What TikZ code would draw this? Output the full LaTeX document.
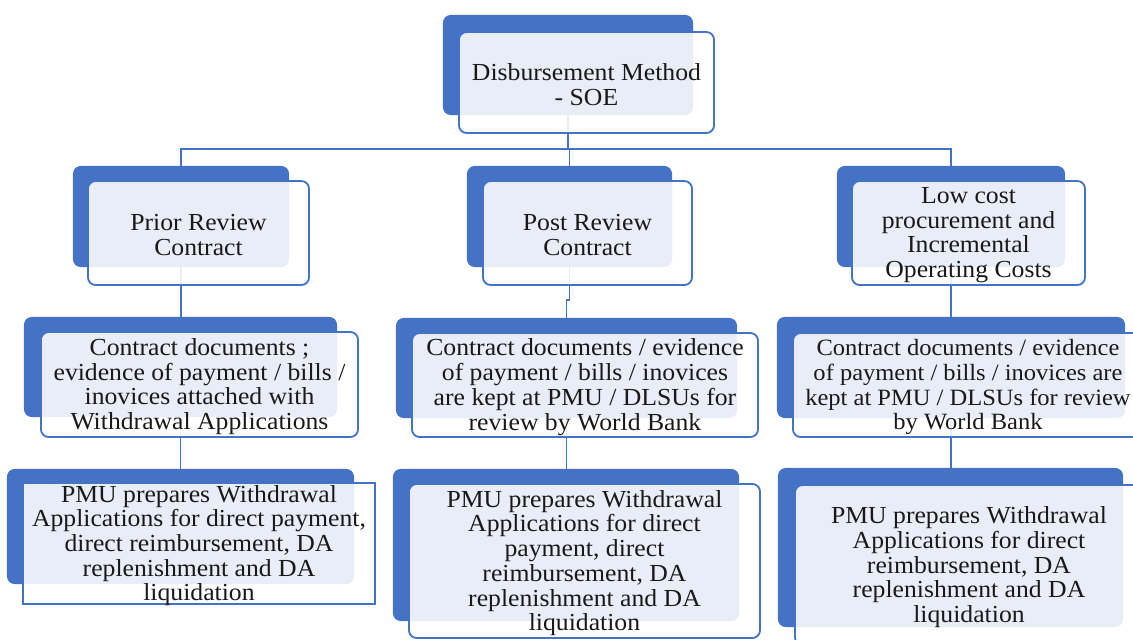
\documentclass[tikz,border=0pt]{standalone}
\usepackage{fontspec}
\setmainfont[FakeStretch=1.05]{Liberation Serif}
\usetikzlibrary{backgrounds}
\definecolor{boxblue}{HTML}{4472C4}

\begin{document}
\begin{tikzpicture}[x=0.025cm, y=-0.025cm,
    back/.style={fill=boxblue, rounded corners=5.5pt, inner sep=0pt},
    front/.style={draw=boxblue, line width=1.3pt, fill=white, fill opacity=0.88, rounded corners=5.5pt, inner sep=0pt},
    boxtext/.style={align=center, inner sep=0pt, yshift=-1.5pt, text=black!90, font=\fontsize{17.4}{17.6}\selectfont},
    link/.style={draw=boxblue, line width=1.3pt}]

        % page size of the reference
        \useasboundingbox (0,0) rectangle (1133,639);
        \clip (0,0) rectangle (1133,639);

        % top box
        \node[back, minimum width=6.25cm, minimum height=2.5cm] (soe back) at (568,65) {};
        \node[front, minimum width=6.375cm, minimum height=2.525cm] (soe front) at (586.5,82.5) {};
        \node[boxtext] (soe text) at (soe front) {Disbursement Method\\- SOE};

        % second row: kinds of contract
        \node[back, minimum width=5.4cm, minimum height=2.525cm] (prior back) at (181,216.5) {};
        \node[front, minimum width=5.525cm, minimum height=2.6cm] (prior front) at (198.5,233) {};
        \node[boxtext] (prior text) at (prior front) {Prior Review\\Contract};

        \node[back, minimum width=5.125cm, minimum height=2.525cm] (post back) at (569.5,216.5) {};
        \node[front, minimum width=5.225cm, minimum height=2.6cm] (post front) at (587.5,233) {};
        \node[boxtext] (post text) at (post front) {Post Review\\Contract};

        \node[back, minimum width=5.7cm, minimum height=2.525cm] (low back) at (951,216.5) {};
        \node[front, minimum width=5.825cm, minimum height=2.6cm] (low front) at (968.5,233) {};
        \node[boxtext] (low text) at (low front) {Low cost\\procurement and\\Incremental\\Operating Costs};

        % third row: where the documents go
        \node[back, minimum width=7.825cm, minimum height=2.5cm] (priordocs back) at (180.5,367) {};
        \node[front, minimum width=7.925cm, minimum height=2.625cm] (priordocs front) at (199.5,384.5) {};
        \node[boxtext] (priordocs text) at (priordocs front) {Contract documents ;\\evidence of payment / bills /\\inovices attached with\\Withdrawal Applications};

        \node[back, minimum width=8.525cm, minimum height=2.5cm] (postdocs back) at (566.5,368) {};
        \node[front, minimum width=8.65cm, minimum height=2.6cm] (postdocs front) at (585,385) {};
        \node[boxtext] (postdocs text) at (postdocs front) {Contract documents / evidence\\of payment / bills / inovices\\are kept at PMU / DLSUs for\\review by World Bank};

        \node[back, minimum width=8.7cm, minimum height=2.525cm] (lowdocs back) at (951,367.5) {};
        \node[front, minimum width=8.75cm, minimum height=2.6cm] (lowdocs front) at (968,385) {};
        \node[boxtext, font=\fontsize{16.6}{17.6}\selectfont] (lowdocs text) at (lowdocs front) {Contract documents / evidence\\of payment / bills / inovices are\\kept at PMU / DLSUs for review\\by World Bank};

        % fourth row: withdrawal applications
        \node[back, minimum width=8.675cm, minimum height=2.875cm] (priorwa back) at (180.5,526.5) {};
        \node[front, sharp corners, minimum width=8.8cm, minimum height=3.025cm] (priorwa front) at (199,543.5) {};
        \node[boxtext] (priorwa text) at (priorwa front) {PMU prepares Withdrawal\\Applications for direct payment,\\direct reimbursement, DA\\replenishment and DA\\liquidation};

        \node[back, minimum width=8.65cm, minimum height=3.8cm] (postwa back) at (566,545) {};
        \node[front, minimum width=8.775cm, minimum height=3.85cm] (postwa front) at (584.5,561) {};
        \node[boxtext] (postwa text) at (postwa front) {PMU prepares Withdrawal\\Applications for direct\\payment, direct\\reimbursement, DA\\replenishment and DA\\liquidation};

        \node[back, minimum width=8.625cm, minimum height=3.975cm] (lowwa back) at (950.5,547.5) {};
        \node[front, minimum width=8.7cm, minimum height=4cm] (lowwa front) at (969,565) {};
        \node[boxtext] (lowwa text) at (lowwa front) {PMU prepares Withdrawal\\Applications for direct\\reimbursement, DA\\replenishment and DA\\liquidation};

        % connectors, kept behind the boxes
        \begin{scope}[on background layer]
            \coordinate (bus) at (0,149);
            \coordinate (jog) at (566.5,300);
            \draw[link] (soe back.south) -- (soe back.south |- bus);
            \draw[link] (prior back.north) |- (low back.north |- bus) -- (low back.north);
            \draw[link] (post back.north) -- (post back.north |- bus);

            \draw[link] (prior back.south) -- (prior back.south |- priordocs back.north);
            \draw[link] (post back.south) |- (jog) -- (postdocs back.north);
            \draw[link] (low back.south) -- (low back.south |- lowdocs back.north);

            \draw[link] (priordocs back.south) -- (priordocs back.south |- priorwa back.north);
            \draw[link] (postdocs back.south) -- (postdocs back.south |- postwa back.north);
            \draw[link] (lowdocs back.south) -- (lowdocs back.south |- lowwa back.north);
        \end{scope}

\end{tikzpicture}
\end{document}
